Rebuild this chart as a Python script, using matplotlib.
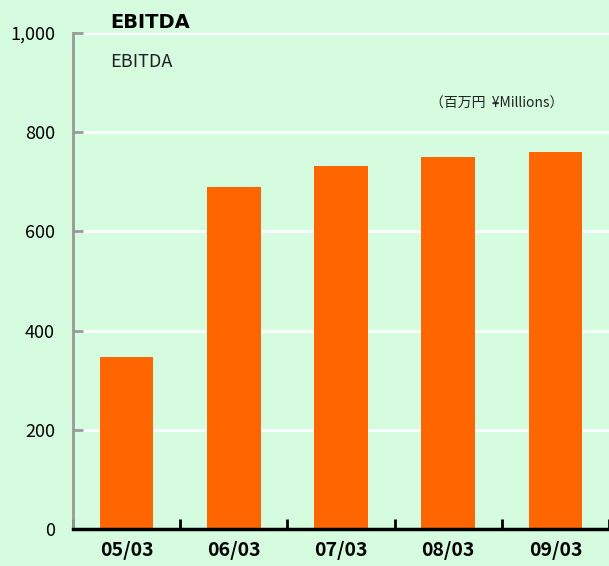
import matplotlib
matplotlib.use("Agg")
import matplotlib.pyplot as plt

categories = ["05/03", "06/03", "07/03", "08/03", "09/03"]
values = [347, 689, 732, 750, 760]
yticks = [0, 200, 400, 600, 800, 1000]
ytick_labels = ["0", "200", "400", "600", "800", "1,000"]

plt.rcParams['font.family'] = ['Noto Sans CJK JP', 'DejaVu Sans']

bg = "#d6fcdf"
fig = plt.figure(figsize=(6.09, 5.66), dpi=100, facecolor=bg)
ax = fig.add_axes([73/609, 37/566, 536/609, 496/566], facecolor=bg)

x = list(range(len(categories)))
ax.bar(x, values, width=0.5, color="#ff6600", zorder=3)

ax.set_xlim(-0.5, len(categories) - 0.5)
ax.set_ylim(0, 1000)
ax.set_yticks(yticks)
ax.set_yticklabels(ytick_labels, fontsize=13)
ax.yaxis.grid(True, color="white", linewidth=2, zorder=1)
ax.set_axisbelow(True)

ax.set_xticks([i - 0.5 for i in range(len(categories) + 1)], minor=False)
ax.set_xticklabels([""] * (len(categories) + 1))
ax.set_xticks(x, minor=True)
ax.set_xticklabels(categories, minor=True, fontsize=14, fontweight="bold")
ax.tick_params(axis="x", which="major", direction="in", length=7, width=2, color="black")
ax.tick_params(axis="x", which="minor", length=0, pad=9)
ax.tick_params(axis="y", direction="in", length=7, width=2, color="#999999", pad=13)

for s in ["top", "right"]:
    ax.spines[s].set_visible(False)
ax.spines["left"].set_color("#999999")
ax.spines["left"].set_linewidth(2)
ax.spines["bottom"].set_color("black")
ax.spines["bottom"].set_linewidth(2.5)
ax.spines["bottom"].set_zorder(5)

fig.text(110/609, 1 - 23/566, "EBITDA", fontsize=14, fontweight="bold", va="center", ha="left",
         color="black", family=["DejaVu Sans"])
fig.text(110/609, 1 - 62/566, "EBITDA", fontsize=13, va="center", ha="left", color="#222222")
fig.text(430/609, 1 - 104/566, "（百万円  ¥Millions）", fontsize=10, va="center", ha="left", color="#222222")

fig.savefig("out.png", dpi=100, facecolor=bg)
